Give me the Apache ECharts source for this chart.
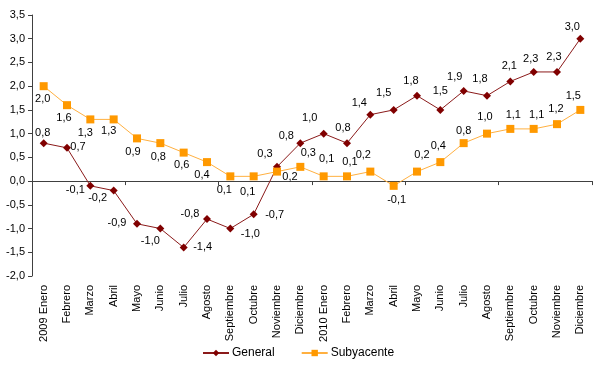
<!DOCTYPE html>
<html>
<head>
<meta charset="utf-8">
<script src="https://cdn.jsdelivr.net/npm/echarts@6/dist/echarts.min.js"></script>
<style>
html,body{margin:0;padding:0;background:#fff;}
#c{width:610px;height:368px;}
</style>
</head>
<body>
<div id="c"></div>
<script>
var categories = ['2009 Enero','Febrero','Marzo','Abril','Mayo','Junio','Julio','Agosto','Septiembre','Octubre','Noviembre','Diciembre',
                  '2010 Enero','Febrero','Marzo','Abril','Mayo','Junio','Julio','Agosto','Septiembre','Octubre','Noviembre','Diciembre'];
var general = [0.8,0.7,-0.1,-0.2,-0.9,-1.0,-1.4,-0.8,-1.0,-0.7,0.3,0.8,1.0,0.8,1.4,1.5,1.8,1.5,1.9,1.8,2.1,2.3,2.3,3.0];
var subyacente = [2.0,1.6,1.3,1.3,0.9,0.8,0.6,0.4,0.1,0.1,0.2,0.3,0.1,0.1,0.2,-0.1,0.2,0.4,0.8,1.0,1.1,1.1,1.2,1.5];
var yTicks = {min:-2, max:3.5, interval:0.5};

// label offsets (style only)
var genOff = [[-1,-10],[11,-1],[-15,4],[-16,7],[-20,-1],[-10,12],[19,-1],[-17,-5],[20,5],[21,1],[-12,-13],[-14,-7],
              [-14,-16],[-4,-15],[-11,-12],[-10,-17],[-6,-15],[0,-19],[-9,-14],[-7,-17],[-1,-15],[-3,-13],[-3,-15],[-8,-12]];
var subOff = [[-1,13],[-3,13],[-5,14],[-5,12],[-4,14],[-2,14],[-2,12],[-5,13],[-6,14],[-6,16],[13,5],[8,-14],
              [3,-17],[3,-14],[-7,-17],[3,14],[5,-17],[-2,-16],[0,-12],[-2,-17],[3,-14],[3,-14],[-1,-15],[-7,-14]];

function fmt(v){ return v.toFixed(1).replace('.', ','); }
function build(vals, offs){
  return vals.map(function(v,i){
    return {value:v, label:{offset:offs[i]}};
  });
}
var font = 'Liberation Sans, Arial, sans-serif';
var chart = echarts.init(document.getElementById('c'));
chart.setOption({
  animation:false,
  backgroundColor:'#fff',
  textStyle:{fontFamily:font},
  grid:{left:32, right:18, top:15, bottom:92},
  legend:{
    bottom:4, left:197, itemWidth:26, itemHeight:8, itemGap:26,
    textStyle:{fontFamily:font, fontSize:12, color:'#000', padding:[0,0,0,-2]},
    data:['General','Subyacente']
  },
  xAxis:[{
    type:'category', data:categories, position:'bottom',
    axisLine:{onZero:true, lineStyle:{color:'#404040', width:1}},
    axisTick:{show:true, length:4, lineStyle:{color:'#404040'}},
    axisLabel:{show:false}, splitLine:{show:false}
  },{
    type:'category', data:categories, position:'bottom',
    axisLine:{show:false, onZero:false}, axisTick:{show:false},
    axisLabel:{show:true, rotate:90, interval:0, margin:9, fontSize:11, color:'#000', fontFamily:font},
    splitLine:{show:false}
  }],
  yAxis:{
    type:'value', min:yTicks.min, max:yTicks.max, interval:yTicks.interval,
    axisLine:{show:true, lineStyle:{color:'#404040'}},
    axisTick:{show:true, length:4, lineStyle:{color:'#404040'}},
    axisLabel:{formatter:fmt, fontSize:11, color:'#000', margin:7, fontFamily:font},
    splitLine:{show:false}
  },
  series:[{
    name:'General', type:'line', xAxisIndex:0, data:build(general, genOff),
    symbol:'diamond', symbolSize:8, itemStyle:{color:'#800000'},
    lineStyle:{color:'#8B1A1A', width:1},
    label:{show:true, position:'inside', formatter:function(p){return fmt(p.value);}, color:'#000', fontSize:11, fontFamily:font}
  },{
    name:'Subyacente', type:'line', xAxisIndex:0, data:build(subyacente, subOff),
    symbol:'rect', symbolSize:8, itemStyle:{color:'#FF9900'},
    lineStyle:{color:'#FFB040', width:1},
    label:{show:true, position:'inside', formatter:function(p){return fmt(p.value);}, color:'#000', fontSize:11, fontFamily:font}
  }]
});
</script>
</body>
</html>
